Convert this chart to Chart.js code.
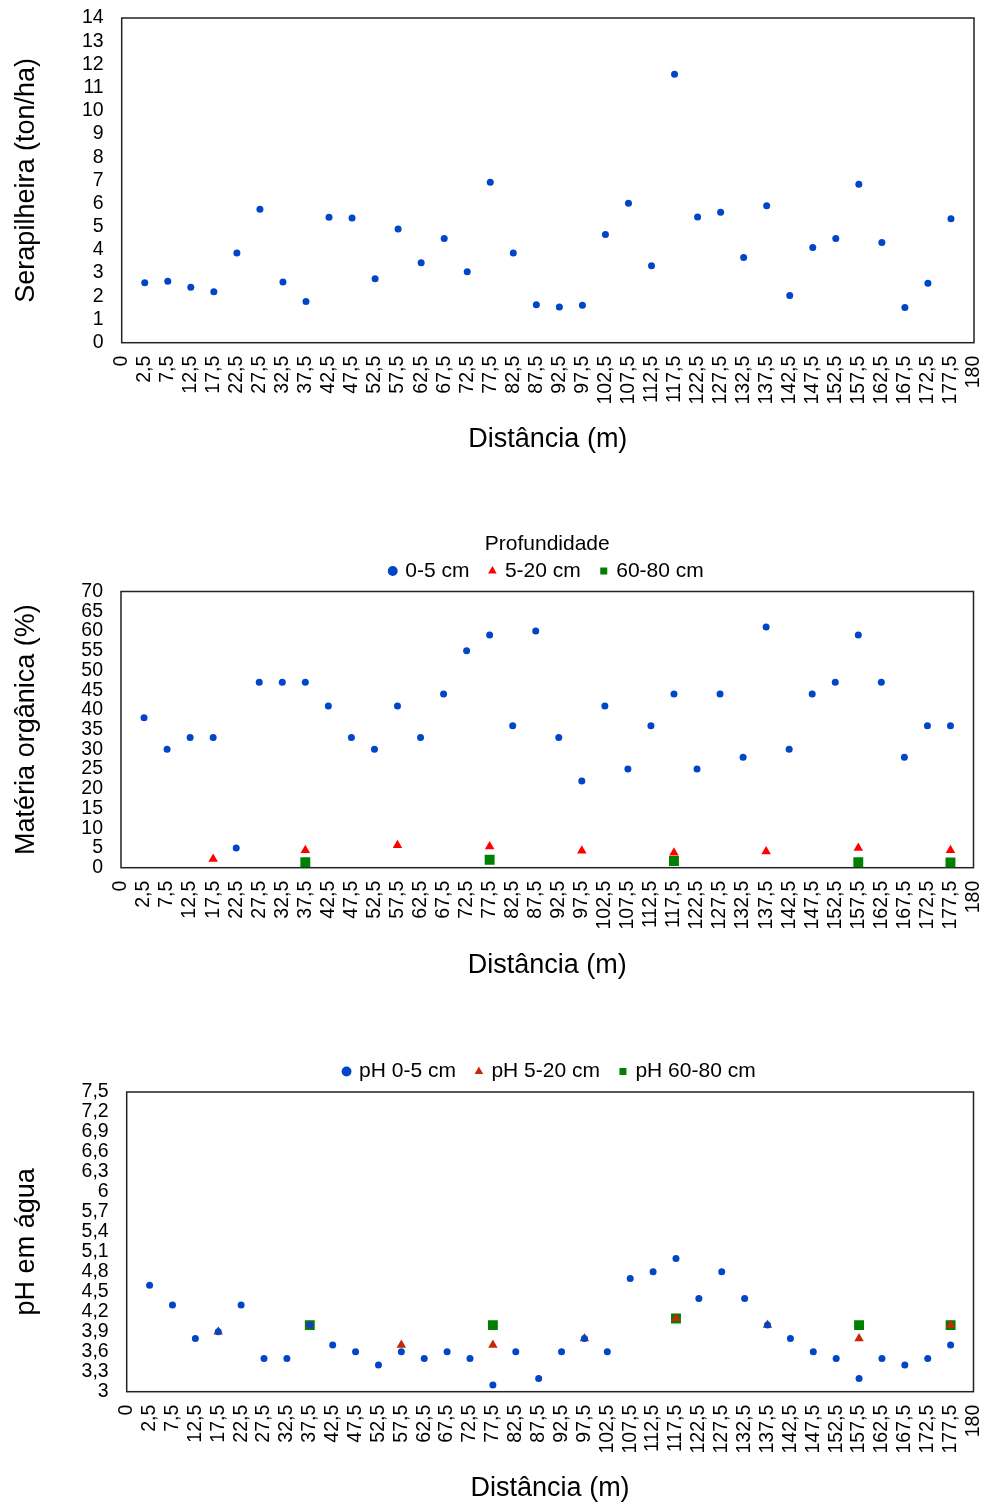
<!DOCTYPE html>
<html lang="pt-BR">
<head>
<meta charset="utf-8">
<title>Serapilheira, matéria orgânica e pH ao longo do transecto</title>
<script src="https://cdn.jsdelivr.net/npm/chart.js@4.4.1/dist/chart.umd.min.js"></script>
<style>
    html, body { margin: 0; padding: 0; background: #fff; }
    body { width: 986px; height: 1503px; position: relative; overflow: hidden; }
    canvas { position: absolute; left: 0; }
</style>
</head>
<body>
<canvas id="litterChart" width="986" height="471" style="top:0"></canvas>
<canvas id="organicChart" width="986" height="490" style="top:510px"></canvas>
<canvas id="phChart" width="986" height="473" style="top:1030px"></canvas>
<script>
// Category axis: sampling points along the transect, with 0 and 180 as end labels
const axisLabels = ['0', '2,5', '7,5', '12,5', '17,5', '22,5', '27,5', '32,5', '37,5', '42,5', '47,5',
    '52,5', '57,5', '62,5', '67,5', '72,5', '77,5', '82,5', '87,5', '92,5', '97,5', '102,5', '107,5',
    '112,5', '117,5', '122,5', '127,5', '132,5', '137,5', '142,5', '147,5', '152,5', '157,5', '162,5',
    '167,5', '172,5', '177,5', '180'];
const samplePoints = ['2,5', '7,5', '12,5', '17,5', '22,5', '27,5', '32,5', '37,5', '42,5', '47,5',
    '52,5', '57,5', '62,5', '67,5', '72,5', '77,5', '82,5', '87,5', '92,5', '97,5', '102,5', '107,5',
    '112,5', '117,5', '122,5', '127,5', '132,5', '137,5', '142,5', '147,5', '152,5', '157,5', '162,5',
    '167,5', '172,5', '177,5'];
const deepPoints20 = ['17,5', '37,5', '57,5', '77,5', '97,5', '117,5', '137,5', '157,5', '177,5'];
const deepPoints80 = ['37,5', '77,5', '117,5', '157,5', '177,5'];

// Serapilheira (ton/ha)
const litter = [2.59, 2.65, 2.39, 2.20, 3.87, 5.75, 2.62, 1.78, 5.41, 5.38, 2.76, 4.90, 3.45, 4.49,
    3.06, 6.92, 3.87, 1.64, 1.54, 1.62, 4.66, 6.01, 3.32, 11.58, 5.42, 5.62, 3.67, 5.91, 2.04, 4.10,
    4.49, 6.83, 4.32, 1.52, 2.56, 5.34];

// Matéria orgânica (%)
const organic0to5 = [38, 30, 33, 33, 5, 47, 47, 47, 41, 33, 30, 41, 33, 44, 55, 59, 36, 60, 33, 22,
    41, 25, 36, 44, 25, 44, 28, 61, 30, 44, 47, 59, 47, 28, 36, 36];
const organic5to20 = [2.2, 4.4, 5.7, 5.4, 4.3, 3.8, 4.1, 5.0, 4.4];
const organic60to80 = [1.4, 2.0, 1.7, 1.4, 1.3];

// pH em água
const ph0to5 = [4.6, 4.3, 3.8, 3.9, 4.3, 3.5, 3.5, 4.0, 3.7, 3.6, 3.4, 3.6, 3.5, 3.6, 3.5, 3.1, 3.6,
    3.2, 3.6, 3.8, 3.6, 4.7, 4.8, 5.0, 4.4, 4.8, 4.4, 4.0, 3.8, 3.6, 3.5, 3.2, 3.5, 3.4, 3.5, 3.7];
const ph5to20 = [3.9, 4.0, 3.7, 3.7, 3.8, 4.1, 4.0, 3.8, 4.0];
const ph60to80 = [4.0, 4.0, 4.1, 4.0, 4.0];

document.addEventListener('DOMContentLoaded', () => {
    const FONT = "'Liberation Sans', Arial, Helvetica, sans-serif";
    const BLUE = '#0046C8';

    const toPoints = (positions, values) => positions.map((x, i) => ({ x, y: values[i] }));
    const fmt = (v) => String(Math.round(v * 10) / 10).replace('.', ',');

    // Excel-like frame around the plot area
    const frame = {
        id: 'frame',
        beforeDatasetsDraw: (chart) => {
            const { ctx, chartArea: a } = chart;
            ctx.save();
            ctx.strokeStyle = '#222';
            ctx.lineWidth = 1.5;
            ctx.strokeRect(a.left, a.top, a.right - a.left, a.bottom - a.top);
            ctx.restore();
        }
    };

    const series = (label, data, style, radius, color) => ({
        label, data,
        showLine: false,
        pointStyle: style,
        pointRadius: radius,
        pointBackgroundColor: color,
        backgroundColor: color,
        borderColor: color,
        borderWidth: 0,
        pointBorderWidth: 0
    });

    const legendLabels = {
        usePointStyle: true, boxWidth: 4, boxHeight: 7, padding: 21, color: '#000',
        font: { family: FONT, size: 21 }
    };

    const buildOptions = (cfg) => ({
        responsive: false,
        animation: false,
        events: [],
        layout: { padding: cfg.padding },
        plugins: {
            legend: cfg.legend || { display: false },
            tooltip: { enabled: false }
        },
        scales: {
            x: {
                type: 'category',
                offset: false,
                grid: { display: false, drawTicks: false },
                border: { display: false },
                ticks: {
                    autoSkip: false, minRotation: 90, maxRotation: 90, padding: 13, color: '#000',
                    font: { family: FONT, size: 19.5, lineHeight: 1.2 }
                },
                title: {
                    display: true, text: 'Distância (m)', color: '#000',
                    font: { family: FONT, size: 27, lineHeight: 1 },
                    padding: { top: 0, bottom: cfg.xTitlePad }
                },
                afterFit: (scale) => {
                    scale.height = cfg.xHeight;
                    scale.paddingLeft = 0;
                    scale.paddingRight = 0;
                }
            },
            y: {
                min: cfg.yMin, max: cfg.yMax,
                grid: { display: false, drawTicks: false },
                border: { display: false },
                ticks: {
                    stepSize: cfg.yStep, autoSkip: false, padding: 18, color: '#000',
                    font: { family: FONT, size: 19.5, lineHeight: 1 },
                    callback: (v) => fmt(v)
                },
                title: {
                    display: true, text: cfg.yTitle, color: '#000',
                    font: { family: FONT, size: 27, lineHeight: 1 },
                    padding: { top: 13, bottom: 0 }
                },
                afterFit: (scale) => {
                    scale.width = cfg.yWidth;
                    scale.paddingTop = 0;
                    scale.paddingBottom = 0;
                }
            }
        }
    });

    new Chart(document.getElementById('litterChart'), {
        type: 'line',
        data: {
            labels: axisLabels,
            datasets: [series('Serapilheira', toPoints(samplePoints, litter), 'circle', 3.5, BLUE)]
        },
        options: buildOptions({
            padding: { top: 18, right: 12, left: 0, bottom: 0 },
            yMin: 0, yMax: 14, yStep: 1, yTitle: 'Serapilheira (ton/ha)',
            yWidth: 121.7, xHeight: 128.3, xTitlePad: 17.5
        }),
        plugins: [frame]
    });

    new Chart(document.getElementById('organicChart'), {
        type: 'line',
        data: {
            labels: axisLabels,
            datasets: [
                series('0-5 cm', toPoints(samplePoints, organic0to5), 'circle', 3.5, BLUE),
                series('5-20 cm', toPoints(deepPoints20, organic5to20), 'triangle', 5.5, '#FF0000'),
                series('60-80 cm', toPoints(deepPoints80, organic60to80), 'rect', 7, '#008000')
            ]
        },
        options: buildOptions({
            padding: { top: 20.4, right: 12.5, left: 0, bottom: 0 },
            yMin: 0, yMax: 70, yStep: 5, yTitle: 'Matéria orgânica (%)',
            yWidth: 121, xHeight: 132.3, xTitlePad: 20.5,
            legend: {
                display: true, position: 'top', fullSize: false,
                title: {
                    display: true, text: 'Profundidade', color: '#000',
                    font: { family: FONT, size: 21, lineHeight: 1.2 },
                    padding: { top: 3, bottom: -19.1 }
                },
                labels: legendLabels
            }
        }),
        plugins: [frame]
    });

    new Chart(document.getElementById('phChart'), {
        type: 'line',
        data: {
            labels: axisLabels,
            datasets: [
                series('pH 0-5 cm', toPoints(samplePoints, ph0to5), 'circle', 3.5, BLUE),
                series('pH 5-20 cm', toPoints(deepPoints20, ph5to20), 'triangle', 5.5, '#C42A08'),
                series('pH 60-80 cm', toPoints(deepPoints80, ph60to80), 'rect', 7, '#008000')
            ]
        },
        options: buildOptions({
            padding: { top: 10, right: 12.5, left: 0, bottom: 0 },
            yMin: 3, yMax: 7.5, yStep: 0.3, yTitle: 'pH em água',
            yWidth: 126.7, xHeight: 111.3, xTitlePad: 0.5,
            legend: {
                display: true, position: 'top', fullSize: false,
                labels: legendLabels
            }
        }),
        plugins: [frame]
    });
});
</script>
</body>
</html>
